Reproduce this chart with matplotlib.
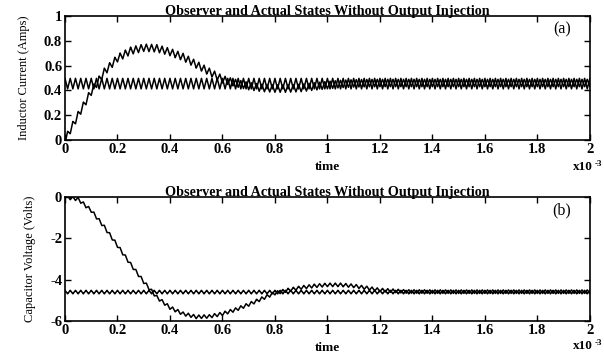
import numpy as np
import matplotlib
matplotlib.use("Agg")
import matplotlib.pyplot as plt

plt.rcParams['font.family'] = ['Liberation Serif', 'DejaVu Serif']

# time axis in units of 1e-3 s
t_end = 2.0
ripple_period = 0.02      # switching period (x1e-3 s)

# slow part of the observer states, read at these instants
t_knots = [0.0, 0.05, 0.1, 0.15, 0.2, 0.25, 0.3, 0.35, 0.4, 0.45, 0.5, 0.55,
           0.6, 0.65, 0.7, 0.75, 0.8, 0.85, 0.9, 0.95, 1.0, 1.05, 1.1, 1.15,
           1.2, 1.3, 1.5, 2.0]
iL_obs = [0.0, 0.2, 0.39, 0.55, 0.66, 0.72, 0.745, 0.74, 0.71, 0.67, 0.61, 0.55,
          0.49, 0.46, 0.435, 0.42, 0.415, 0.415, 0.42, 0.432, 0.443, 0.452, 0.457, 0.459,
          0.46, 0.46, 0.46, 0.46]
vC_obs = [0.0, -0.1, -0.65, -1.45, -2.35, -3.25, -4.1, -4.85, -5.35, -5.65, -5.8, -5.78,
          -5.65, -5.45, -5.2, -4.92, -4.65, -4.5, -4.38, -4.3, -4.25, -4.25, -4.3, -4.4,
          -4.5, -4.57, -4.58, -4.58]

# actual states sit at their steady values
iL_act = 0.455
vC_act = -4.6

# ripple peak-to-peak
iL_ripple = 0.085
vC_ripple = 0.17


def triangle(t, period, pp, phase=0.0):
    x = (t / period + phase) % 1.0
    return pp * (np.abs(2.0 * x - 1.0) - 0.5)


t = np.linspace(0, t_end, 8001)
iL_o = np.interp(t, t_knots, iL_obs) + triangle(t, ripple_period, iL_ripple * 0.7, 0.5)
iL_o[0] = 0.0
iL_a = iL_act + triangle(t, ripple_period, iL_ripple)
vC_o = np.interp(t, t_knots, vC_obs) + triangle(t, ripple_period, vC_ripple, 0.5)
vC_o[:20] = np.interp(t[:20], t_knots, vC_obs)
vC_a = vC_act + triangle(t, ripple_period, vC_ripple)

title = 'Observer and Actual States Without Output Injection'
xticks = np.arange(0, 2.01, 0.2)
xlabels = ['0', '0.2', '0.4', '0.6', '0.8', '1', '1.2', '1.4', '1.6', '1.8', '2']

fig = plt.figure(figsize=(6.04, 3.58), dpi=100)
ax1 = fig.add_axes([0.1076, 0.609, 0.869, 0.346])
ax2 = fig.add_axes([0.1076, 0.1034, 0.869, 0.346])

panels = [
    (ax1, iL_o, iL_a, (0, 1), np.arange(0, 1.01, 0.2),
     ['0', '0.2', '0.4', '0.6', '0.8', '1'], 'Inductor Current (Amps)', '(a)'),
    (ax2, vC_o, vC_a, (-6, 0), [-6, -4, -2, 0],
     ['-6', '-4', '-2', '0'], 'Capacitor Voltage (Volts)', '(b)'),
]

for ax, obs, act, ylim, yticks, ylabels, ylab, tag in panels:
    ax.plot(t, obs, color='black', lw=1.1)
    ax.plot(t, act, color='black', lw=1.1)
    ax.set_xlim(0, t_end)
    ax.set_ylim(*ylim)
    ax.set_xticks(xticks)
    ax.set_xticklabels(xlabels, fontsize=10.5, fontweight='bold')
    ax.set_yticks(yticks)
    ax.set_yticklabels(ylabels, fontsize=10.5, fontweight='bold')
    ax.tick_params(direction='in', top=True, right=True, length=4, width=1, pad=2)
    for s in ax.spines.values():
        s.set_linewidth(1.2)
    ax.set_title(title, fontsize=10.2, fontweight='bold', pad=1)
    ax.set_ylabel(ylab, fontsize=9, labelpad=10)
    ax.text(0.965, 0.86, tag, transform=ax.transAxes, fontsize=11.5, ha='right')
    ax.set_xlabel('time', fontsize=9.5, fontweight='bold', labelpad=4)

# exponent note on the time axes
for y in (0.525, 0.025):
    fig.text(0.948, y, 'x10', fontsize=9.5, fontweight='bold')
    fig.text(0.985, y + 0.01, '-3', fontsize=6.5, fontweight='bold')

fig.savefig('out.png', dpi=100)
